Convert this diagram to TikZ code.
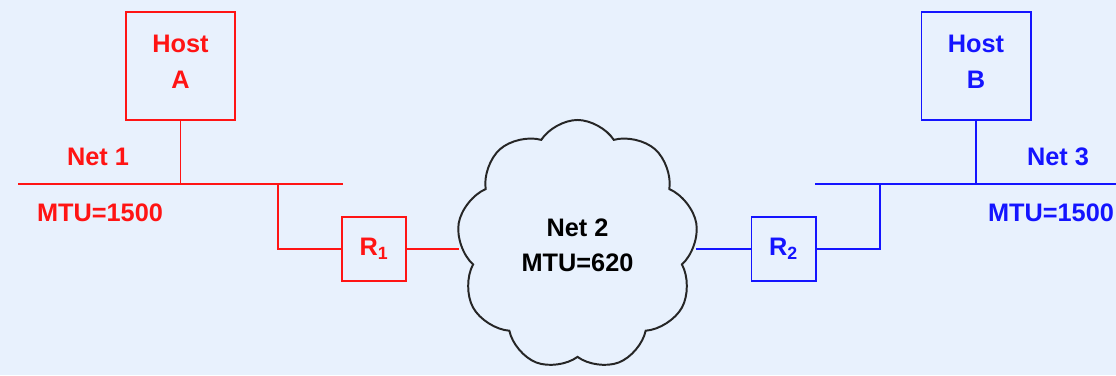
\documentclass[tikz,border=0pt]{standalone}
\usepackage{fontspec}
\setmainfont{Liberation Sans}
\usetikzlibrary{shapes.symbols}
\definecolor{bgblue}{RGB}{232,241,253}
\definecolor{netred}{RGB}{255,20,20}
\definecolor{netblue}{RGB}{20,20,255}
\begin{document}
\begin{tikzpicture}[x=0.025cm, y=-0.025cm, line width=1.4pt, font=\fontsize{18}{25}\selectfont\bfseries]
	\tikzstyle{host}   = [rectangle, draw, minimum width=2.725cm, minimum height=2.7cm, align=center, inner sep=0pt]
	\tikzstyle{router} = [rectangle, draw, minimum size=1.6cm, inner sep=0pt]
	\tikzstyle{label}  = [inner sep=0pt]

	\fill[bgblue] (0,0) rectangle (1116,375);
	\useasboundingbox (0,0) rectangle (1116,375);

	% Net 1 side
	\node[host, netred] (hostA) at (180.5, 66) {Host\\A\\[-19pt]};
	\node[router, netred] (R1) at (374, 249) {R\textsubscript{1}};
	\coordinate (n1w) at (18, 184);
	\coordinate (n1e) at (343, 184);
	\coordinate (tapA) at (hostA.south |- n1w);
	\coordinate (tapR1) at (278, 184);
	\node[label, netred] (net1) at (98, 157) {Net 1};
	\node[label, netred] (mtu1) at (100, 213) {MTU=1500};

	% Net 2
	\node[cloud, draw=black!85, cloud puffs=9, cloud puff arc=115, aspect=1, minimum width=6.03cm, minimum height=6.25cm, align=center, inner sep=0pt] (net2) at (577.5, 245) {Net 2\\MTU=620};

	% Net 3 side
	\node[host, netblue] (hostB) at (976, 66) {Host\\B\\[-19pt]};
	\node[router, netblue] (R2) at (783.5, 249) {R\textsubscript{2}};
	\coordinate (n3w) at (815, 184);
	\coordinate (n3e) at (1116, 184);
	\coordinate (tapB) at (hostB.south |- n3w);
	\coordinate (tapR2) at (880, 184);
	\node[label, netblue] (net3) at (1058, 157) {Net 3};
	\node[label, netblue] (mtu3) at (1051, 213) {MTU=1500};

	\draw[netred] (n1w) -- (n1e);
	\draw[netred] (hostA.south) -- (tapA);
	\draw[netred] (tapR1) |- (R1.west);
	\draw[netred] (R1.east) -- (R1.east -| net2.west);

	\draw[netblue] (n3w) -- (n3e);
	\draw[netblue] (hostB.south) -- (tapB);
	\draw[netblue] (tapR2) |- (R2.east);
	\draw[netblue] (R2.west) -- (R2.west -| net2.east);
\end{tikzpicture}
\end{document}
